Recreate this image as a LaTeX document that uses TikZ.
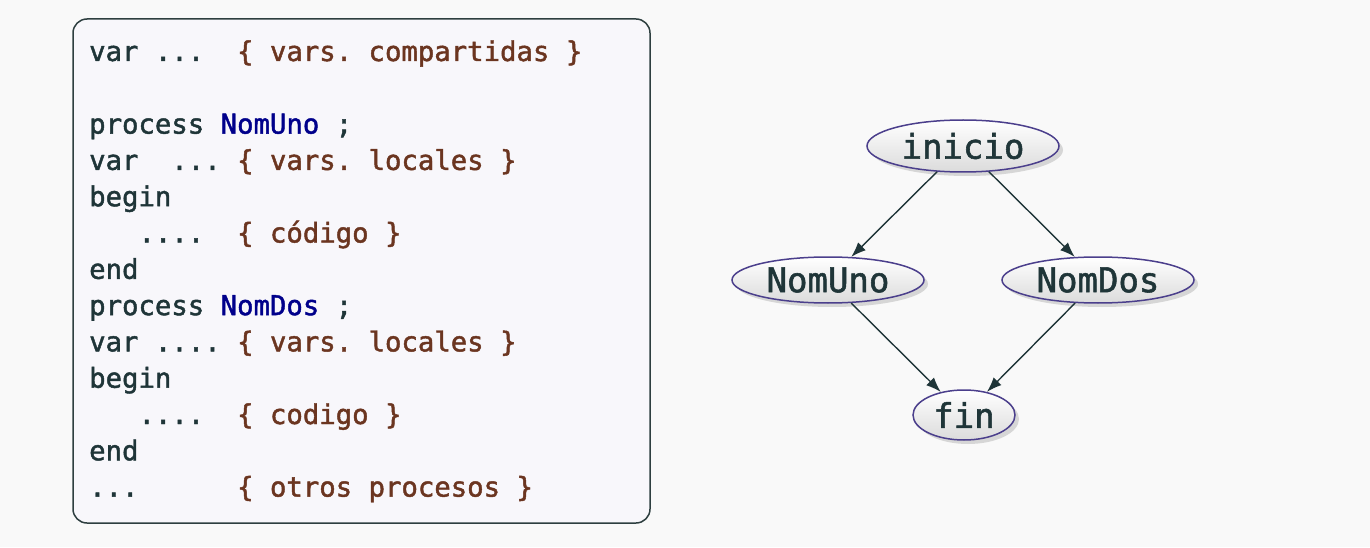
\documentclass[tikz,border=0pt]{standalone}
\usepackage{fontspec}
\usetikzlibrary{shapes.geometric,shadows,arrows.meta}
\newfontfamily\codefont{DejaVu Sans Mono}[FakeBold=1.6]
\definecolor{bgc}{HTML}{F9F9F9}
\definecolor{boxfill}{HTML}{F8F7FB}
\definecolor{boxline}{HTML}{2E3F40}
\definecolor{codec}{HTML}{1F3538}
\definecolor{commc}{HTML}{6B3520}
\definecolor{namec}{HTML}{00008B}
\definecolor{ellc}{HTML}{4B3F8C}
\newcommand\cmt[1]{\textcolor{commc}{#1}}
\newcommand\nm[1]{\textcolor{namec}{#1}}
\begin{document}
\begin{tikzpicture}[x=1pt,y=1pt,
  codeline/.style={anchor=base west,inner sep=0pt,text=codec,
    font=\codefont\fontsize{27.3}{34}\selectfont},
  gnode/.style={ellipse,draw=ellc,line width=1.5pt,inner sep=0pt,
    top color=white,bottom color=gray!28,text=codec,
    font=\codefont\fontsize{34}{40}\selectfont,
    drop shadow={shadow xshift=4pt,shadow yshift=-4pt,fill=black!25,opacity=0.6}},
  garrow/.style={draw=codec,line width=1.4pt,-{Latex[length=15pt,width=11pt]}}]
\useasboundingbox[fill=bgc] (0,0) rectangle (1370,547);
\draw[boxline,fill=boxfill,line width=1.5pt,rounded corners=14pt] (73,24) rectangle (650,528);
% code lines (baseline y = 547 - (61 + k*36.3))
\node[codeline] (l1) at (89,486) {var\ ...\ \ \cmt{\{\ vars.\ compartidas\ \}}};
\node[codeline] (l3) at (89,413.4) {process\ \nm{NomUno}\ ;};
\node[codeline] (l4) at (89,377.1) {var\ \ ...\ \cmt{\{\ vars.\ locales\ \}}};
\node[codeline] (l5) at (89,340.8) {begin};
\node[codeline] (l6) at (89,304.5) {\ \ \ ....\ \ \cmt{\{\ código\ \}}};
\node[codeline] (l7) at (89,268.2) {end};
\node[codeline] (l8) at (89,231.9) {process\ \nm{NomDos}\ ;};
\node[codeline] (l9) at (89,195.6) {var\ ....\ \cmt{\{\ vars.\ locales\ \}}};
\node[codeline] (l10) at (89,159.3) {begin};
\node[codeline] (l11) at (89,123) {\ \ \ ....\ \ \cmt{\{\ codigo\ \}}};
\node[codeline] (l12) at (89,86.7) {end};
\node[codeline] (l13) at (89,50.4) {...\ \ \ \ \ \ \cmt{\{\ otros\ procesos\ \}}};
% graph
\node[gnode,minimum width=192pt,minimum height=52pt] (inicio) at (963,401) {inicio};
\node[gnode,minimum width=192pt,minimum height=46pt] (uno) at (828,267) {NomUno};
\node[gnode,minimum width=192pt,minimum height=46pt] (dos) at (1098,267) {NomDos};
\node[gnode,minimum width=102pt,minimum height=50pt] (fin) at (964,132) {fin};
\draw[garrow] (inicio) -- (uno);
\draw[garrow] (inicio) -- (dos);
\draw[garrow] (uno) -- (fin);
\draw[garrow] (dos) -- (fin);
\end{tikzpicture}
\end{document}
